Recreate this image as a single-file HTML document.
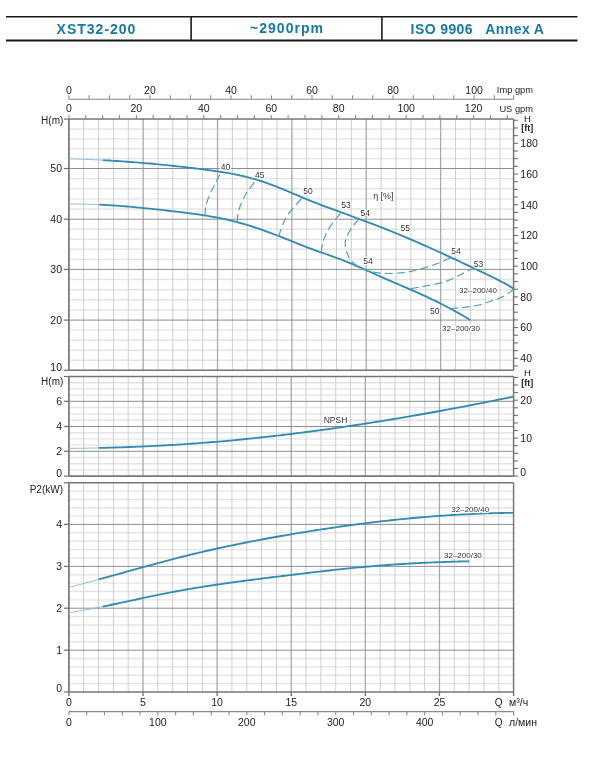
<!DOCTYPE html>
<html><head><meta charset="utf-8"><style>
html,body{margin:0;padding:0;background:#fff;}
body{width:602px;height:758px;overflow:hidden;position:relative;font-family:"Liberation Sans", sans-serif;}
svg{position:absolute;left:0;top:0;will-change:transform;}
svg text{font-family:"Liberation Sans", sans-serif;}
</style></head><body>
<svg width="602" height="758" viewBox="0 0 602 758">
<rect width="602" height="758" fill="#fff"/>
<line x1="6" y1="16.7" x2="577.5" y2="16.7" stroke="#1a1a1a" stroke-width="1.6"/>
<line x1="6" y1="40.4" x2="577.5" y2="40.4" stroke="#1a1a1a" stroke-width="2"/>
<line x1="191.1" y1="16" x2="191.1" y2="40.5" stroke="#1a1a1a" stroke-width="1.6"/>
<line x1="381.9" y1="16" x2="381.9" y2="40.5" stroke="#1a1a1a" stroke-width="1.6"/>
<text x="96.5" y="33.9" font-size="14" font-weight="bold" text-anchor="middle" fill="#1479a8" letter-spacing="1">XST32-200</text>
<text x="287" y="33.4" font-size="14" font-weight="bold" text-anchor="middle" fill="#1479a8" letter-spacing="1">~2900rpm</text>
<text x="477.5" y="33.9" font-size="14" font-weight="bold" text-anchor="middle" fill="#1479a8" letter-spacing="0.4" xml:space="preserve">ISO 9906   Annex A</text>
<line x1="68.90" y1="360.26" x2="513.59" y2="360.26" stroke="#e4e4e4" stroke-width="1.4" />
<line x1="68.90" y1="350.22" x2="513.59" y2="350.22" stroke="#e4e4e4" stroke-width="1.4" />
<line x1="68.90" y1="340.18" x2="513.59" y2="340.18" stroke="#e4e4e4" stroke-width="1.4" />
<line x1="68.90" y1="330.14" x2="513.59" y2="330.14" stroke="#e4e4e4" stroke-width="1.4" />
<line x1="68.90" y1="309.96" x2="513.59" y2="309.96" stroke="#e4e4e4" stroke-width="1.4" />
<line x1="68.90" y1="299.82" x2="513.59" y2="299.82" stroke="#e4e4e4" stroke-width="1.4" />
<line x1="68.90" y1="289.68" x2="513.59" y2="289.68" stroke="#e4e4e4" stroke-width="1.4" />
<line x1="68.90" y1="279.54" x2="513.59" y2="279.54" stroke="#e4e4e4" stroke-width="1.4" />
<line x1="68.90" y1="259.36" x2="513.59" y2="259.36" stroke="#e4e4e4" stroke-width="1.4" />
<line x1="68.90" y1="249.32" x2="513.59" y2="249.32" stroke="#e4e4e4" stroke-width="1.4" />
<line x1="68.90" y1="239.28" x2="513.59" y2="239.28" stroke="#e4e4e4" stroke-width="1.4" />
<line x1="68.90" y1="229.24" x2="513.59" y2="229.24" stroke="#e4e4e4" stroke-width="1.4" />
<line x1="68.90" y1="209.06" x2="513.59" y2="209.06" stroke="#e4e4e4" stroke-width="1.4" />
<line x1="68.90" y1="198.92" x2="513.59" y2="198.92" stroke="#e4e4e4" stroke-width="1.4" />
<line x1="68.90" y1="188.78" x2="513.59" y2="188.78" stroke="#e4e4e4" stroke-width="1.4" />
<line x1="68.90" y1="178.64" x2="513.59" y2="178.64" stroke="#e4e4e4" stroke-width="1.4" />
<line x1="68.90" y1="158.62" x2="513.59" y2="158.62" stroke="#e4e4e4" stroke-width="1.4" />
<line x1="68.90" y1="148.74" x2="513.59" y2="148.74" stroke="#e4e4e4" stroke-width="1.4" />
<line x1="68.90" y1="138.86" x2="513.59" y2="138.86" stroke="#e4e4e4" stroke-width="1.4" />
<line x1="68.90" y1="128.98" x2="513.59" y2="128.98" stroke="#e4e4e4" stroke-width="1.4" />
<line x1="83.67" y1="119.10" x2="83.67" y2="370.30" stroke="#cfcfcf" stroke-width="1.0" />
<line x1="98.54" y1="119.10" x2="98.54" y2="370.30" stroke="#cfcfcf" stroke-width="1.0" />
<line x1="113.42" y1="119.10" x2="113.42" y2="370.30" stroke="#cfcfcf" stroke-width="1.0" />
<line x1="128.29" y1="119.10" x2="128.29" y2="370.30" stroke="#cfcfcf" stroke-width="1.0" />
<line x1="143.16" y1="119.10" x2="143.16" y2="370.30" stroke="#a9a9a9" stroke-width="1.3" />
<line x1="158.03" y1="119.10" x2="158.03" y2="370.30" stroke="#cfcfcf" stroke-width="1.0" />
<line x1="172.90" y1="119.10" x2="172.90" y2="370.30" stroke="#cfcfcf" stroke-width="1.0" />
<line x1="187.78" y1="119.10" x2="187.78" y2="370.30" stroke="#cfcfcf" stroke-width="1.0" />
<line x1="202.65" y1="119.10" x2="202.65" y2="370.30" stroke="#cfcfcf" stroke-width="1.0" />
<line x1="217.52" y1="119.10" x2="217.52" y2="370.30" stroke="#a9a9a9" stroke-width="1.3" />
<line x1="232.39" y1="119.10" x2="232.39" y2="370.30" stroke="#cfcfcf" stroke-width="1.0" />
<line x1="247.26" y1="119.10" x2="247.26" y2="370.30" stroke="#cfcfcf" stroke-width="1.0" />
<line x1="262.14" y1="119.10" x2="262.14" y2="370.30" stroke="#cfcfcf" stroke-width="1.0" />
<line x1="277.01" y1="119.10" x2="277.01" y2="370.30" stroke="#cfcfcf" stroke-width="1.0" />
<line x1="291.88" y1="119.10" x2="291.88" y2="370.30" stroke="#a9a9a9" stroke-width="1.3" />
<line x1="306.75" y1="119.10" x2="306.75" y2="370.30" stroke="#cfcfcf" stroke-width="1.0" />
<line x1="321.62" y1="119.10" x2="321.62" y2="370.30" stroke="#cfcfcf" stroke-width="1.0" />
<line x1="336.50" y1="119.10" x2="336.50" y2="370.30" stroke="#cfcfcf" stroke-width="1.0" />
<line x1="351.37" y1="119.10" x2="351.37" y2="370.30" stroke="#cfcfcf" stroke-width="1.0" />
<line x1="366.24" y1="119.10" x2="366.24" y2="370.30" stroke="#a9a9a9" stroke-width="1.3" />
<line x1="381.11" y1="119.10" x2="381.11" y2="370.30" stroke="#cfcfcf" stroke-width="1.0" />
<line x1="395.98" y1="119.10" x2="395.98" y2="370.30" stroke="#cfcfcf" stroke-width="1.0" />
<line x1="410.86" y1="119.10" x2="410.86" y2="370.30" stroke="#cfcfcf" stroke-width="1.0" />
<line x1="425.73" y1="119.10" x2="425.73" y2="370.30" stroke="#cfcfcf" stroke-width="1.0" />
<line x1="440.60" y1="119.10" x2="440.60" y2="370.30" stroke="#a9a9a9" stroke-width="1.3" />
<line x1="455.47" y1="119.10" x2="455.47" y2="370.30" stroke="#cfcfcf" stroke-width="1.0" />
<line x1="470.34" y1="119.10" x2="470.34" y2="370.30" stroke="#cfcfcf" stroke-width="1.0" />
<line x1="485.22" y1="119.10" x2="485.22" y2="370.30" stroke="#cfcfcf" stroke-width="1.0" />
<line x1="500.09" y1="119.10" x2="500.09" y2="370.30" stroke="#cfcfcf" stroke-width="1.0" />
<line x1="68.90" y1="320.10" x2="513.59" y2="320.10" stroke="#8e8e8e" stroke-width="1.0" />
<line x1="68.90" y1="269.40" x2="513.59" y2="269.40" stroke="#8e8e8e" stroke-width="1.0" />
<line x1="68.90" y1="219.20" x2="513.59" y2="219.20" stroke="#8e8e8e" stroke-width="1.0" />
<line x1="68.90" y1="168.50" x2="513.59" y2="168.50" stroke="#8e8e8e" stroke-width="1.0" />
<line x1="68.90" y1="119.10" x2="513.59" y2="119.10" stroke="#767676" stroke-width="1.5" />
<line x1="68.90" y1="370.30" x2="513.59" y2="370.30" stroke="#767676" stroke-width="1.6" />
<line x1="68.90" y1="119.10" x2="68.90" y2="370.30" stroke="#767676" stroke-width="1.7" />
<line x1="513.59" y1="119.10" x2="513.59" y2="370.30" stroke="#767676" stroke-width="1.5" />
<line x1="68.90" y1="469.90" x2="513.59" y2="469.90" stroke="#e4e4e4" stroke-width="1.4" />
<line x1="68.90" y1="463.70" x2="513.59" y2="463.70" stroke="#e4e4e4" stroke-width="1.4" />
<line x1="68.90" y1="457.50" x2="513.59" y2="457.50" stroke="#e4e4e4" stroke-width="1.4" />
<line x1="68.90" y1="445.10" x2="513.59" y2="445.10" stroke="#e4e4e4" stroke-width="1.4" />
<line x1="68.90" y1="438.90" x2="513.59" y2="438.90" stroke="#e4e4e4" stroke-width="1.4" />
<line x1="68.90" y1="432.70" x2="513.59" y2="432.70" stroke="#e4e4e4" stroke-width="1.4" />
<line x1="68.90" y1="420.20" x2="513.59" y2="420.20" stroke="#e4e4e4" stroke-width="1.4" />
<line x1="68.90" y1="413.90" x2="513.59" y2="413.90" stroke="#e4e4e4" stroke-width="1.4" />
<line x1="68.90" y1="407.60" x2="513.59" y2="407.60" stroke="#e4e4e4" stroke-width="1.4" />
<line x1="68.90" y1="395.10" x2="513.59" y2="395.10" stroke="#e4e4e4" stroke-width="1.4" />
<line x1="68.90" y1="388.90" x2="513.59" y2="388.90" stroke="#e4e4e4" stroke-width="1.4" />
<line x1="68.90" y1="382.70" x2="513.59" y2="382.70" stroke="#e4e4e4" stroke-width="1.4" />
<line x1="83.72" y1="376.50" x2="83.72" y2="476.10" stroke="#cfcfcf" stroke-width="1.0" />
<line x1="98.55" y1="376.50" x2="98.55" y2="476.10" stroke="#cfcfcf" stroke-width="1.0" />
<line x1="113.37" y1="376.50" x2="113.37" y2="476.10" stroke="#cfcfcf" stroke-width="1.0" />
<line x1="128.19" y1="376.50" x2="128.19" y2="476.10" stroke="#cfcfcf" stroke-width="1.0" />
<line x1="143.02" y1="376.50" x2="143.02" y2="476.10" stroke="#a9a9a9" stroke-width="1.3" />
<line x1="157.84" y1="376.50" x2="157.84" y2="476.10" stroke="#cfcfcf" stroke-width="1.0" />
<line x1="172.66" y1="376.50" x2="172.66" y2="476.10" stroke="#cfcfcf" stroke-width="1.0" />
<line x1="187.48" y1="376.50" x2="187.48" y2="476.10" stroke="#cfcfcf" stroke-width="1.0" />
<line x1="202.31" y1="376.50" x2="202.31" y2="476.10" stroke="#cfcfcf" stroke-width="1.0" />
<line x1="217.13" y1="376.50" x2="217.13" y2="476.10" stroke="#a9a9a9" stroke-width="1.3" />
<line x1="231.95" y1="376.50" x2="231.95" y2="476.10" stroke="#cfcfcf" stroke-width="1.0" />
<line x1="246.78" y1="376.50" x2="246.78" y2="476.10" stroke="#cfcfcf" stroke-width="1.0" />
<line x1="261.60" y1="376.50" x2="261.60" y2="476.10" stroke="#cfcfcf" stroke-width="1.0" />
<line x1="276.42" y1="376.50" x2="276.42" y2="476.10" stroke="#cfcfcf" stroke-width="1.0" />
<line x1="291.25" y1="376.50" x2="291.25" y2="476.10" stroke="#a9a9a9" stroke-width="1.3" />
<line x1="306.07" y1="376.50" x2="306.07" y2="476.10" stroke="#cfcfcf" stroke-width="1.0" />
<line x1="320.89" y1="376.50" x2="320.89" y2="476.10" stroke="#cfcfcf" stroke-width="1.0" />
<line x1="335.71" y1="376.50" x2="335.71" y2="476.10" stroke="#cfcfcf" stroke-width="1.0" />
<line x1="350.54" y1="376.50" x2="350.54" y2="476.10" stroke="#cfcfcf" stroke-width="1.0" />
<line x1="365.36" y1="376.50" x2="365.36" y2="476.10" stroke="#a9a9a9" stroke-width="1.3" />
<line x1="380.18" y1="376.50" x2="380.18" y2="476.10" stroke="#cfcfcf" stroke-width="1.0" />
<line x1="395.01" y1="376.50" x2="395.01" y2="476.10" stroke="#cfcfcf" stroke-width="1.0" />
<line x1="409.83" y1="376.50" x2="409.83" y2="476.10" stroke="#cfcfcf" stroke-width="1.0" />
<line x1="424.65" y1="376.50" x2="424.65" y2="476.10" stroke="#cfcfcf" stroke-width="1.0" />
<line x1="439.48" y1="376.50" x2="439.48" y2="476.10" stroke="#a9a9a9" stroke-width="1.3" />
<line x1="454.30" y1="376.50" x2="454.30" y2="476.10" stroke="#cfcfcf" stroke-width="1.0" />
<line x1="469.12" y1="376.50" x2="469.12" y2="476.10" stroke="#cfcfcf" stroke-width="1.0" />
<line x1="483.94" y1="376.50" x2="483.94" y2="476.10" stroke="#cfcfcf" stroke-width="1.0" />
<line x1="498.77" y1="376.50" x2="498.77" y2="476.10" stroke="#cfcfcf" stroke-width="1.0" />
<line x1="68.90" y1="451.30" x2="513.59" y2="451.30" stroke="#8e8e8e" stroke-width="1.0" />
<line x1="68.90" y1="426.50" x2="513.59" y2="426.50" stroke="#8e8e8e" stroke-width="1.0" />
<line x1="68.90" y1="401.30" x2="513.59" y2="401.30" stroke="#8e8e8e" stroke-width="1.0" />
<line x1="68.90" y1="376.50" x2="513.59" y2="376.50" stroke="#767676" stroke-width="1.5" />
<line x1="68.90" y1="476.10" x2="513.59" y2="476.10" stroke="#767676" stroke-width="1.6" />
<line x1="68.90" y1="376.50" x2="68.90" y2="476.10" stroke="#767676" stroke-width="1.7" />
<line x1="513.59" y1="376.50" x2="513.59" y2="476.10" stroke="#767676" stroke-width="1.5" />
<line x1="68.90" y1="683.64" x2="513.59" y2="683.64" stroke="#e4e4e4" stroke-width="1.4" />
<line x1="68.90" y1="675.28" x2="513.59" y2="675.28" stroke="#e4e4e4" stroke-width="1.4" />
<line x1="68.90" y1="666.92" x2="513.59" y2="666.92" stroke="#e4e4e4" stroke-width="1.4" />
<line x1="68.90" y1="658.56" x2="513.59" y2="658.56" stroke="#e4e4e4" stroke-width="1.4" />
<line x1="68.90" y1="641.80" x2="513.59" y2="641.80" stroke="#e4e4e4" stroke-width="1.4" />
<line x1="68.90" y1="633.40" x2="513.59" y2="633.40" stroke="#e4e4e4" stroke-width="1.4" />
<line x1="68.90" y1="625.00" x2="513.59" y2="625.00" stroke="#e4e4e4" stroke-width="1.4" />
<line x1="68.90" y1="616.60" x2="513.59" y2="616.60" stroke="#e4e4e4" stroke-width="1.4" />
<line x1="68.90" y1="599.84" x2="513.59" y2="599.84" stroke="#e4e4e4" stroke-width="1.4" />
<line x1="68.90" y1="591.48" x2="513.59" y2="591.48" stroke="#e4e4e4" stroke-width="1.4" />
<line x1="68.90" y1="583.12" x2="513.59" y2="583.12" stroke="#e4e4e4" stroke-width="1.4" />
<line x1="68.90" y1="574.76" x2="513.59" y2="574.76" stroke="#e4e4e4" stroke-width="1.4" />
<line x1="68.90" y1="558.00" x2="513.59" y2="558.00" stroke="#e4e4e4" stroke-width="1.4" />
<line x1="68.90" y1="549.60" x2="513.59" y2="549.60" stroke="#e4e4e4" stroke-width="1.4" />
<line x1="68.90" y1="541.20" x2="513.59" y2="541.20" stroke="#e4e4e4" stroke-width="1.4" />
<line x1="68.90" y1="532.80" x2="513.59" y2="532.80" stroke="#e4e4e4" stroke-width="1.4" />
<line x1="68.90" y1="516.08" x2="513.59" y2="516.08" stroke="#e4e4e4" stroke-width="1.4" />
<line x1="68.90" y1="507.76" x2="513.59" y2="507.76" stroke="#e4e4e4" stroke-width="1.4" />
<line x1="68.90" y1="499.44" x2="513.59" y2="499.44" stroke="#e4e4e4" stroke-width="1.4" />
<line x1="68.90" y1="491.12" x2="513.59" y2="491.12" stroke="#e4e4e4" stroke-width="1.4" />
<line x1="83.72" y1="482.80" x2="83.72" y2="692.00" stroke="#cfcfcf" stroke-width="1.0" />
<line x1="98.55" y1="482.80" x2="98.55" y2="692.00" stroke="#cfcfcf" stroke-width="1.0" />
<line x1="113.37" y1="482.80" x2="113.37" y2="692.00" stroke="#cfcfcf" stroke-width="1.0" />
<line x1="128.19" y1="482.80" x2="128.19" y2="692.00" stroke="#cfcfcf" stroke-width="1.0" />
<line x1="143.02" y1="482.80" x2="143.02" y2="692.00" stroke="#a9a9a9" stroke-width="1.3" />
<line x1="157.84" y1="482.80" x2="157.84" y2="692.00" stroke="#cfcfcf" stroke-width="1.0" />
<line x1="172.66" y1="482.80" x2="172.66" y2="692.00" stroke="#cfcfcf" stroke-width="1.0" />
<line x1="187.48" y1="482.80" x2="187.48" y2="692.00" stroke="#cfcfcf" stroke-width="1.0" />
<line x1="202.31" y1="482.80" x2="202.31" y2="692.00" stroke="#cfcfcf" stroke-width="1.0" />
<line x1="217.13" y1="482.80" x2="217.13" y2="692.00" stroke="#a9a9a9" stroke-width="1.3" />
<line x1="231.95" y1="482.80" x2="231.95" y2="692.00" stroke="#cfcfcf" stroke-width="1.0" />
<line x1="246.78" y1="482.80" x2="246.78" y2="692.00" stroke="#cfcfcf" stroke-width="1.0" />
<line x1="261.60" y1="482.80" x2="261.60" y2="692.00" stroke="#cfcfcf" stroke-width="1.0" />
<line x1="276.42" y1="482.80" x2="276.42" y2="692.00" stroke="#cfcfcf" stroke-width="1.0" />
<line x1="291.25" y1="482.80" x2="291.25" y2="692.00" stroke="#a9a9a9" stroke-width="1.3" />
<line x1="306.07" y1="482.80" x2="306.07" y2="692.00" stroke="#cfcfcf" stroke-width="1.0" />
<line x1="320.89" y1="482.80" x2="320.89" y2="692.00" stroke="#cfcfcf" stroke-width="1.0" />
<line x1="335.71" y1="482.80" x2="335.71" y2="692.00" stroke="#cfcfcf" stroke-width="1.0" />
<line x1="350.54" y1="482.80" x2="350.54" y2="692.00" stroke="#cfcfcf" stroke-width="1.0" />
<line x1="365.36" y1="482.80" x2="365.36" y2="692.00" stroke="#a9a9a9" stroke-width="1.3" />
<line x1="380.18" y1="482.80" x2="380.18" y2="692.00" stroke="#cfcfcf" stroke-width="1.0" />
<line x1="395.01" y1="482.80" x2="395.01" y2="692.00" stroke="#cfcfcf" stroke-width="1.0" />
<line x1="409.83" y1="482.80" x2="409.83" y2="692.00" stroke="#cfcfcf" stroke-width="1.0" />
<line x1="424.65" y1="482.80" x2="424.65" y2="692.00" stroke="#cfcfcf" stroke-width="1.0" />
<line x1="439.48" y1="482.80" x2="439.48" y2="692.00" stroke="#a9a9a9" stroke-width="1.3" />
<line x1="454.30" y1="482.80" x2="454.30" y2="692.00" stroke="#cfcfcf" stroke-width="1.0" />
<line x1="469.12" y1="482.80" x2="469.12" y2="692.00" stroke="#cfcfcf" stroke-width="1.0" />
<line x1="483.94" y1="482.80" x2="483.94" y2="692.00" stroke="#cfcfcf" stroke-width="1.0" />
<line x1="498.77" y1="482.80" x2="498.77" y2="692.00" stroke="#cfcfcf" stroke-width="1.0" />
<line x1="68.90" y1="650.20" x2="513.59" y2="650.20" stroke="#8e8e8e" stroke-width="1.0" />
<line x1="68.90" y1="608.20" x2="513.59" y2="608.20" stroke="#8e8e8e" stroke-width="1.0" />
<line x1="68.90" y1="566.40" x2="513.59" y2="566.40" stroke="#8e8e8e" stroke-width="1.0" />
<line x1="68.90" y1="524.40" x2="513.59" y2="524.40" stroke="#8e8e8e" stroke-width="1.0" />
<line x1="68.90" y1="482.80" x2="513.59" y2="482.80" stroke="#767676" stroke-width="1.5" />
<line x1="68.90" y1="692.00" x2="513.59" y2="692.00" stroke="#767676" stroke-width="1.6" />
<line x1="68.90" y1="482.80" x2="68.90" y2="692.00" stroke="#767676" stroke-width="1.7" />
<line x1="513.59" y1="482.80" x2="513.59" y2="692.00" stroke="#767676" stroke-width="1.5" />
<line x1="63.90" y1="370.30" x2="68.90" y2="370.30" stroke="#6e6e6e" stroke-width="1.2" />
<text x="62.00" y="370.70" font-size="10.5" text-anchor="end" fill="#222" >10</text>
<line x1="63.90" y1="320.10" x2="68.90" y2="320.10" stroke="#6e6e6e" stroke-width="1.2" />
<text x="62.00" y="323.90" font-size="10.5" text-anchor="end" fill="#222" >20</text>
<line x1="63.90" y1="269.40" x2="68.90" y2="269.40" stroke="#6e6e6e" stroke-width="1.2" />
<text x="62.00" y="273.20" font-size="10.5" text-anchor="end" fill="#222" >30</text>
<line x1="63.90" y1="219.20" x2="68.90" y2="219.20" stroke="#6e6e6e" stroke-width="1.2" />
<text x="62.00" y="223.00" font-size="10.5" text-anchor="end" fill="#222" >40</text>
<line x1="63.90" y1="168.50" x2="68.90" y2="168.50" stroke="#6e6e6e" stroke-width="1.2" />
<text x="62.00" y="172.30" font-size="10.5" text-anchor="end" fill="#222" >50</text>
<line x1="63.90" y1="119.10" x2="68.90" y2="119.10" stroke="#6e6e6e" stroke-width="1.2" />
<text x="63.30" y="124.20" font-size="10" text-anchor="end" fill="#222" >H(m)</text>
<line x1="63.90" y1="476.10" x2="68.90" y2="476.10" stroke="#6e6e6e" stroke-width="1.2" />
<text x="62.00" y="476.50" font-size="10.5" text-anchor="end" fill="#222" >0</text>
<line x1="63.90" y1="451.30" x2="68.90" y2="451.30" stroke="#6e6e6e" stroke-width="1.2" />
<text x="62.00" y="455.10" font-size="10.5" text-anchor="end" fill="#222" >2</text>
<line x1="63.90" y1="426.50" x2="68.90" y2="426.50" stroke="#6e6e6e" stroke-width="1.2" />
<text x="62.00" y="430.30" font-size="10.5" text-anchor="end" fill="#222" >4</text>
<line x1="63.90" y1="401.30" x2="68.90" y2="401.30" stroke="#6e6e6e" stroke-width="1.2" />
<text x="62.00" y="405.10" font-size="10.5" text-anchor="end" fill="#222" >6</text>
<line x1="63.90" y1="376.50" x2="68.90" y2="376.50" stroke="#6e6e6e" stroke-width="1.2" />
<text x="63.30" y="384.50" font-size="10" text-anchor="end" fill="#222" >H(m)</text>
<line x1="63.90" y1="692.00" x2="68.90" y2="692.00" stroke="#6e6e6e" stroke-width="1.2" />
<text x="62.00" y="692.40" font-size="10.5" text-anchor="end" fill="#222" >0</text>
<line x1="63.90" y1="650.20" x2="68.90" y2="650.20" stroke="#6e6e6e" stroke-width="1.2" />
<text x="62.00" y="654.00" font-size="10.5" text-anchor="end" fill="#222" >1</text>
<line x1="63.90" y1="608.20" x2="68.90" y2="608.20" stroke="#6e6e6e" stroke-width="1.2" />
<text x="62.00" y="612.00" font-size="10.5" text-anchor="end" fill="#222" >2</text>
<line x1="63.90" y1="566.40" x2="68.90" y2="566.40" stroke="#6e6e6e" stroke-width="1.2" />
<text x="62.00" y="570.20" font-size="10.5" text-anchor="end" fill="#222" >3</text>
<line x1="63.90" y1="524.40" x2="68.90" y2="524.40" stroke="#6e6e6e" stroke-width="1.2" />
<text x="62.00" y="528.20" font-size="10.5" text-anchor="end" fill="#222" >4</text>
<line x1="63.90" y1="482.80" x2="68.90" y2="482.80" stroke="#6e6e6e" stroke-width="1.2" />
<text x="63.00" y="493.20" font-size="10" text-anchor="end" fill="#222" >P2(kW)</text>
<line x1="513.59" y1="365.98" x2="517.89" y2="365.98" stroke="#6e6e6e" stroke-width="1.1" />
<line x1="513.59" y1="358.30" x2="517.89" y2="358.30" stroke="#6e6e6e" stroke-width="1.1" />
<line x1="513.59" y1="350.62" x2="517.89" y2="350.62" stroke="#6e6e6e" stroke-width="1.1" />
<line x1="513.59" y1="342.94" x2="517.89" y2="342.94" stroke="#6e6e6e" stroke-width="1.1" />
<line x1="513.59" y1="335.26" x2="517.89" y2="335.26" stroke="#6e6e6e" stroke-width="1.1" />
<line x1="513.59" y1="327.59" x2="517.89" y2="327.59" stroke="#6e6e6e" stroke-width="1.1" />
<line x1="513.59" y1="319.91" x2="517.89" y2="319.91" stroke="#6e6e6e" stroke-width="1.1" />
<line x1="513.59" y1="312.23" x2="517.89" y2="312.23" stroke="#6e6e6e" stroke-width="1.1" />
<line x1="513.59" y1="304.55" x2="517.89" y2="304.55" stroke="#6e6e6e" stroke-width="1.1" />
<line x1="513.59" y1="296.87" x2="517.89" y2="296.87" stroke="#6e6e6e" stroke-width="1.1" />
<line x1="513.59" y1="289.19" x2="517.89" y2="289.19" stroke="#6e6e6e" stroke-width="1.1" />
<line x1="513.59" y1="281.51" x2="517.89" y2="281.51" stroke="#6e6e6e" stroke-width="1.1" />
<line x1="513.59" y1="273.84" x2="517.89" y2="273.84" stroke="#6e6e6e" stroke-width="1.1" />
<line x1="513.59" y1="266.16" x2="517.89" y2="266.16" stroke="#6e6e6e" stroke-width="1.1" />
<line x1="513.59" y1="258.48" x2="517.89" y2="258.48" stroke="#6e6e6e" stroke-width="1.1" />
<line x1="513.59" y1="250.80" x2="517.89" y2="250.80" stroke="#6e6e6e" stroke-width="1.1" />
<line x1="513.59" y1="243.12" x2="517.89" y2="243.12" stroke="#6e6e6e" stroke-width="1.1" />
<line x1="513.59" y1="235.44" x2="517.89" y2="235.44" stroke="#6e6e6e" stroke-width="1.1" />
<line x1="513.59" y1="227.77" x2="517.89" y2="227.77" stroke="#6e6e6e" stroke-width="1.1" />
<line x1="513.59" y1="220.09" x2="517.89" y2="220.09" stroke="#6e6e6e" stroke-width="1.1" />
<line x1="513.59" y1="212.41" x2="517.89" y2="212.41" stroke="#6e6e6e" stroke-width="1.1" />
<line x1="513.59" y1="204.73" x2="517.89" y2="204.73" stroke="#6e6e6e" stroke-width="1.1" />
<line x1="513.59" y1="197.05" x2="517.89" y2="197.05" stroke="#6e6e6e" stroke-width="1.1" />
<line x1="513.59" y1="189.37" x2="517.89" y2="189.37" stroke="#6e6e6e" stroke-width="1.1" />
<line x1="513.59" y1="181.69" x2="517.89" y2="181.69" stroke="#6e6e6e" stroke-width="1.1" />
<line x1="513.59" y1="174.02" x2="517.89" y2="174.02" stroke="#6e6e6e" stroke-width="1.1" />
<line x1="513.59" y1="166.34" x2="517.89" y2="166.34" stroke="#6e6e6e" stroke-width="1.1" />
<line x1="513.59" y1="158.66" x2="517.89" y2="158.66" stroke="#6e6e6e" stroke-width="1.1" />
<line x1="513.59" y1="150.98" x2="517.89" y2="150.98" stroke="#6e6e6e" stroke-width="1.1" />
<line x1="513.59" y1="143.30" x2="517.89" y2="143.30" stroke="#6e6e6e" stroke-width="1.1" />
<line x1="513.59" y1="135.62" x2="517.89" y2="135.62" stroke="#6e6e6e" stroke-width="1.1" />
<line x1="513.59" y1="127.94" x2="517.89" y2="127.94" stroke="#6e6e6e" stroke-width="1.1" />
<line x1="513.59" y1="120.27" x2="517.89" y2="120.27" stroke="#6e6e6e" stroke-width="1.1" />
<text x="520.30" y="362.10" font-size="10.5" text-anchor="start" fill="#222" >40</text>
<text x="520.30" y="331.39" font-size="10.5" text-anchor="start" fill="#222" >60</text>
<text x="520.30" y="300.67" font-size="10.5" text-anchor="start" fill="#222" >80</text>
<text x="520.30" y="269.96" font-size="10.5" text-anchor="start" fill="#222" >100</text>
<text x="520.30" y="239.24" font-size="10.5" text-anchor="start" fill="#222" >120</text>
<text x="520.30" y="208.53" font-size="10.5" text-anchor="start" fill="#222" >140</text>
<text x="520.30" y="177.82" font-size="10.5" text-anchor="start" fill="#222" >160</text>
<text x="520.30" y="147.10" font-size="10.5" text-anchor="start" fill="#222" >180</text>
<text x="527.50" y="122.30" font-size="9.5" text-anchor="middle" fill="#222" >H</text>
<text x="527.30" y="131.40" font-size="9" text-anchor="middle" fill="#222" font-weight="bold">[ft]</text>
<line x1="513.59" y1="476.10" x2="517.89" y2="476.10" stroke="#6e6e6e" stroke-width="1.1" />
<line x1="513.59" y1="468.51" x2="517.89" y2="468.51" stroke="#6e6e6e" stroke-width="1.1" />
<line x1="513.59" y1="460.92" x2="517.89" y2="460.92" stroke="#6e6e6e" stroke-width="1.1" />
<line x1="513.59" y1="453.33" x2="517.89" y2="453.33" stroke="#6e6e6e" stroke-width="1.1" />
<line x1="513.59" y1="445.74" x2="517.89" y2="445.74" stroke="#6e6e6e" stroke-width="1.1" />
<line x1="513.59" y1="438.15" x2="517.89" y2="438.15" stroke="#6e6e6e" stroke-width="1.1" />
<line x1="513.59" y1="430.56" x2="517.89" y2="430.56" stroke="#6e6e6e" stroke-width="1.1" />
<line x1="513.59" y1="422.97" x2="517.89" y2="422.97" stroke="#6e6e6e" stroke-width="1.1" />
<line x1="513.59" y1="415.38" x2="517.89" y2="415.38" stroke="#6e6e6e" stroke-width="1.1" />
<line x1="513.59" y1="407.79" x2="517.89" y2="407.79" stroke="#6e6e6e" stroke-width="1.1" />
<line x1="513.59" y1="400.20" x2="517.89" y2="400.20" stroke="#6e6e6e" stroke-width="1.1" />
<line x1="513.59" y1="392.62" x2="517.89" y2="392.62" stroke="#6e6e6e" stroke-width="1.1" />
<line x1="513.59" y1="385.03" x2="517.89" y2="385.03" stroke="#6e6e6e" stroke-width="1.1" />
<line x1="513.59" y1="377.44" x2="517.89" y2="377.44" stroke="#6e6e6e" stroke-width="1.1" />
<text x="520.30" y="476.40" font-size="10.5" text-anchor="start" fill="#222" >0</text>
<text x="520.30" y="441.95" font-size="10.5" text-anchor="start" fill="#222" >10</text>
<text x="520.30" y="404.00" font-size="10.5" text-anchor="start" fill="#222" >20</text>
<text x="527.50" y="375.80" font-size="9.5" text-anchor="middle" fill="#222" >H</text>
<text x="527.30" y="386.40" font-size="9" text-anchor="middle" fill="#222" font-weight="bold">[ft]</text>
<line x1="68.90" y1="99.30" x2="513.59" y2="99.30" stroke="#8a8a8a" stroke-width="1.1" />
<line x1="68.90" y1="95.30" x2="68.90" y2="99.30" stroke="#8a8a8a" stroke-width="1.1" />
<text x="68.90" y="93.60" font-size="10.5" text-anchor="middle" fill="#222" >0</text>
<line x1="89.16" y1="95.30" x2="89.16" y2="99.30" stroke="#8a8a8a" stroke-width="1.1" />
<line x1="109.42" y1="95.30" x2="109.42" y2="99.30" stroke="#8a8a8a" stroke-width="1.1" />
<line x1="129.68" y1="95.30" x2="129.68" y2="99.30" stroke="#8a8a8a" stroke-width="1.1" />
<line x1="149.94" y1="95.30" x2="149.94" y2="99.30" stroke="#8a8a8a" stroke-width="1.1" />
<text x="149.94" y="93.60" font-size="10.5" text-anchor="middle" fill="#222" >20</text>
<line x1="170.20" y1="95.30" x2="170.20" y2="99.30" stroke="#8a8a8a" stroke-width="1.1" />
<line x1="190.46" y1="95.30" x2="190.46" y2="99.30" stroke="#8a8a8a" stroke-width="1.1" />
<line x1="210.72" y1="95.30" x2="210.72" y2="99.30" stroke="#8a8a8a" stroke-width="1.1" />
<line x1="230.98" y1="95.30" x2="230.98" y2="99.30" stroke="#8a8a8a" stroke-width="1.1" />
<text x="230.98" y="93.60" font-size="10.5" text-anchor="middle" fill="#222" >40</text>
<line x1="251.24" y1="95.30" x2="251.24" y2="99.30" stroke="#8a8a8a" stroke-width="1.1" />
<line x1="271.50" y1="95.30" x2="271.50" y2="99.30" stroke="#8a8a8a" stroke-width="1.1" />
<line x1="291.76" y1="95.30" x2="291.76" y2="99.30" stroke="#8a8a8a" stroke-width="1.1" />
<line x1="312.02" y1="95.30" x2="312.02" y2="99.30" stroke="#8a8a8a" stroke-width="1.1" />
<text x="312.02" y="93.60" font-size="10.5" text-anchor="middle" fill="#222" >60</text>
<line x1="332.28" y1="95.30" x2="332.28" y2="99.30" stroke="#8a8a8a" stroke-width="1.1" />
<line x1="352.54" y1="95.30" x2="352.54" y2="99.30" stroke="#8a8a8a" stroke-width="1.1" />
<line x1="372.80" y1="95.30" x2="372.80" y2="99.30" stroke="#8a8a8a" stroke-width="1.1" />
<line x1="393.06" y1="95.30" x2="393.06" y2="99.30" stroke="#8a8a8a" stroke-width="1.1" />
<text x="393.06" y="93.60" font-size="10.5" text-anchor="middle" fill="#222" >80</text>
<line x1="413.32" y1="95.30" x2="413.32" y2="99.30" stroke="#8a8a8a" stroke-width="1.1" />
<line x1="433.58" y1="95.30" x2="433.58" y2="99.30" stroke="#8a8a8a" stroke-width="1.1" />
<line x1="453.84" y1="95.30" x2="453.84" y2="99.30" stroke="#8a8a8a" stroke-width="1.1" />
<line x1="474.10" y1="95.30" x2="474.10" y2="99.30" stroke="#8a8a8a" stroke-width="1.1" />
<text x="474.10" y="93.60" font-size="10.5" text-anchor="middle" fill="#222" >100</text>
<line x1="494.36" y1="95.30" x2="494.36" y2="99.30" stroke="#8a8a8a" stroke-width="1.1" />
<line x1="513.59" y1="95.30" x2="513.59" y2="99.30" stroke="#8a8a8a" stroke-width="1.1" />
<text x="533.00" y="93.20" font-size="9.3" text-anchor="end" fill="#222" >Imp gpm</text>
<line x1="68.90" y1="115.10" x2="68.90" y2="119.10" stroke="#8a8a8a" stroke-width="1.1" />
<text x="68.90" y="111.80" font-size="10.5" text-anchor="middle" fill="#222" >0</text>
<line x1="85.76" y1="115.10" x2="85.76" y2="119.10" stroke="#8a8a8a" stroke-width="1.1" />
<line x1="102.62" y1="115.10" x2="102.62" y2="119.10" stroke="#8a8a8a" stroke-width="1.1" />
<line x1="119.49" y1="115.10" x2="119.49" y2="119.10" stroke="#8a8a8a" stroke-width="1.1" />
<line x1="136.35" y1="115.10" x2="136.35" y2="119.10" stroke="#8a8a8a" stroke-width="1.1" />
<text x="136.35" y="111.80" font-size="10.5" text-anchor="middle" fill="#222" >20</text>
<line x1="153.21" y1="115.10" x2="153.21" y2="119.10" stroke="#8a8a8a" stroke-width="1.1" />
<line x1="170.07" y1="115.10" x2="170.07" y2="119.10" stroke="#8a8a8a" stroke-width="1.1" />
<line x1="186.94" y1="115.10" x2="186.94" y2="119.10" stroke="#8a8a8a" stroke-width="1.1" />
<line x1="203.80" y1="115.10" x2="203.80" y2="119.10" stroke="#8a8a8a" stroke-width="1.1" />
<text x="203.80" y="111.80" font-size="10.5" text-anchor="middle" fill="#222" >40</text>
<line x1="220.66" y1="115.10" x2="220.66" y2="119.10" stroke="#8a8a8a" stroke-width="1.1" />
<line x1="237.53" y1="115.10" x2="237.53" y2="119.10" stroke="#8a8a8a" stroke-width="1.1" />
<line x1="254.39" y1="115.10" x2="254.39" y2="119.10" stroke="#8a8a8a" stroke-width="1.1" />
<line x1="271.25" y1="115.10" x2="271.25" y2="119.10" stroke="#8a8a8a" stroke-width="1.1" />
<text x="271.25" y="111.80" font-size="10.5" text-anchor="middle" fill="#222" >60</text>
<line x1="288.11" y1="115.10" x2="288.11" y2="119.10" stroke="#8a8a8a" stroke-width="1.1" />
<line x1="304.98" y1="115.10" x2="304.98" y2="119.10" stroke="#8a8a8a" stroke-width="1.1" />
<line x1="321.84" y1="115.10" x2="321.84" y2="119.10" stroke="#8a8a8a" stroke-width="1.1" />
<line x1="338.70" y1="115.10" x2="338.70" y2="119.10" stroke="#8a8a8a" stroke-width="1.1" />
<text x="338.70" y="111.80" font-size="10.5" text-anchor="middle" fill="#222" >80</text>
<line x1="355.56" y1="115.10" x2="355.56" y2="119.10" stroke="#8a8a8a" stroke-width="1.1" />
<line x1="372.42" y1="115.10" x2="372.42" y2="119.10" stroke="#8a8a8a" stroke-width="1.1" />
<line x1="389.29" y1="115.10" x2="389.29" y2="119.10" stroke="#8a8a8a" stroke-width="1.1" />
<line x1="406.15" y1="115.10" x2="406.15" y2="119.10" stroke="#8a8a8a" stroke-width="1.1" />
<text x="406.15" y="111.80" font-size="10.5" text-anchor="middle" fill="#222" >100</text>
<line x1="423.01" y1="115.10" x2="423.01" y2="119.10" stroke="#8a8a8a" stroke-width="1.1" />
<line x1="439.88" y1="115.10" x2="439.88" y2="119.10" stroke="#8a8a8a" stroke-width="1.1" />
<line x1="456.74" y1="115.10" x2="456.74" y2="119.10" stroke="#8a8a8a" stroke-width="1.1" />
<line x1="473.60" y1="115.10" x2="473.60" y2="119.10" stroke="#8a8a8a" stroke-width="1.1" />
<text x="473.60" y="111.80" font-size="10.5" text-anchor="middle" fill="#222" >120</text>
<line x1="490.46" y1="115.10" x2="490.46" y2="119.10" stroke="#8a8a8a" stroke-width="1.1" />
<line x1="507.33" y1="115.10" x2="507.33" y2="119.10" stroke="#8a8a8a" stroke-width="1.1" />
<text x="533.00" y="111.80" font-size="9.3" text-anchor="end" fill="#222" >US gpm</text>
<line x1="68.90" y1="692.00" x2="68.90" y2="696.00" stroke="#6e6e6e" stroke-width="1.3" />
<text x="68.90" y="706.00" font-size="10.5" text-anchor="middle" fill="#222" >0</text>
<line x1="143.02" y1="692.00" x2="143.02" y2="696.00" stroke="#6e6e6e" stroke-width="1.3" />
<text x="143.02" y="706.00" font-size="10.5" text-anchor="middle" fill="#222" >5</text>
<line x1="217.13" y1="692.00" x2="217.13" y2="696.00" stroke="#6e6e6e" stroke-width="1.3" />
<text x="217.13" y="706.00" font-size="10.5" text-anchor="middle" fill="#222" >10</text>
<line x1="291.25" y1="692.00" x2="291.25" y2="696.00" stroke="#6e6e6e" stroke-width="1.3" />
<text x="291.25" y="706.00" font-size="10.5" text-anchor="middle" fill="#222" >15</text>
<line x1="365.36" y1="692.00" x2="365.36" y2="696.00" stroke="#6e6e6e" stroke-width="1.3" />
<text x="365.36" y="706.00" font-size="10.5" text-anchor="middle" fill="#222" >20</text>
<line x1="439.48" y1="692.00" x2="439.48" y2="696.00" stroke="#6e6e6e" stroke-width="1.3" />
<text x="439.48" y="706.00" font-size="10.5" text-anchor="middle" fill="#222" >25</text>
<line x1="513.59" y1="692.00" x2="513.59" y2="696.00" stroke="#6e6e6e" stroke-width="1.3" />
<text x="502.60" y="705.80" font-size="10" text-anchor="end" fill="#222" >Q</text>
<text x="509.00" y="706.00" font-size="10.5" text-anchor="start" fill="#222" >м³/ч</text>
<line x1="68.90" y1="711.60" x2="513.59" y2="711.60" stroke="#8a8a8a" stroke-width="1.1" />
<line x1="68.90" y1="711.60" x2="68.90" y2="715.20" stroke="#8a8a8a" stroke-width="1.1" />
<text x="68.90" y="725.60" font-size="10.5" text-anchor="middle" fill="#222" >0</text>
<line x1="86.69" y1="711.60" x2="86.69" y2="715.20" stroke="#8a8a8a" stroke-width="1.1" />
<line x1="104.48" y1="711.60" x2="104.48" y2="715.20" stroke="#8a8a8a" stroke-width="1.1" />
<line x1="122.26" y1="711.60" x2="122.26" y2="715.20" stroke="#8a8a8a" stroke-width="1.1" />
<line x1="140.05" y1="711.60" x2="140.05" y2="715.20" stroke="#8a8a8a" stroke-width="1.1" />
<line x1="157.84" y1="711.60" x2="157.84" y2="715.20" stroke="#8a8a8a" stroke-width="1.1" />
<text x="157.84" y="725.60" font-size="10.5" text-anchor="middle" fill="#222" >100</text>
<line x1="175.63" y1="711.60" x2="175.63" y2="715.20" stroke="#8a8a8a" stroke-width="1.1" />
<line x1="193.41" y1="711.60" x2="193.41" y2="715.20" stroke="#8a8a8a" stroke-width="1.1" />
<line x1="211.20" y1="711.60" x2="211.20" y2="715.20" stroke="#8a8a8a" stroke-width="1.1" />
<line x1="228.99" y1="711.60" x2="228.99" y2="715.20" stroke="#8a8a8a" stroke-width="1.1" />
<line x1="246.78" y1="711.60" x2="246.78" y2="715.20" stroke="#8a8a8a" stroke-width="1.1" />
<text x="246.78" y="725.60" font-size="10.5" text-anchor="middle" fill="#222" >200</text>
<line x1="264.56" y1="711.60" x2="264.56" y2="715.20" stroke="#8a8a8a" stroke-width="1.1" />
<line x1="282.35" y1="711.60" x2="282.35" y2="715.20" stroke="#8a8a8a" stroke-width="1.1" />
<line x1="300.14" y1="711.60" x2="300.14" y2="715.20" stroke="#8a8a8a" stroke-width="1.1" />
<line x1="317.93" y1="711.60" x2="317.93" y2="715.20" stroke="#8a8a8a" stroke-width="1.1" />
<line x1="335.71" y1="711.60" x2="335.71" y2="715.20" stroke="#8a8a8a" stroke-width="1.1" />
<text x="335.71" y="725.60" font-size="10.5" text-anchor="middle" fill="#222" >300</text>
<line x1="353.50" y1="711.60" x2="353.50" y2="715.20" stroke="#8a8a8a" stroke-width="1.1" />
<line x1="371.29" y1="711.60" x2="371.29" y2="715.20" stroke="#8a8a8a" stroke-width="1.1" />
<line x1="389.08" y1="711.60" x2="389.08" y2="715.20" stroke="#8a8a8a" stroke-width="1.1" />
<line x1="406.86" y1="711.60" x2="406.86" y2="715.20" stroke="#8a8a8a" stroke-width="1.1" />
<line x1="424.65" y1="711.60" x2="424.65" y2="715.20" stroke="#8a8a8a" stroke-width="1.1" />
<text x="424.65" y="725.60" font-size="10.5" text-anchor="middle" fill="#222" >400</text>
<line x1="442.44" y1="711.60" x2="442.44" y2="715.20" stroke="#8a8a8a" stroke-width="1.1" />
<line x1="460.23" y1="711.60" x2="460.23" y2="715.20" stroke="#8a8a8a" stroke-width="1.1" />
<line x1="478.01" y1="711.60" x2="478.01" y2="715.20" stroke="#8a8a8a" stroke-width="1.1" />
<line x1="495.80" y1="711.60" x2="495.80" y2="715.20" stroke="#8a8a8a" stroke-width="1.1" />
<line x1="513.59" y1="711.60" x2="513.59" y2="715.20" stroke="#8a8a8a" stroke-width="1.1" />
<line x1="513.59" y1="711.60" x2="513.59" y2="715.20" stroke="#8a8a8a" stroke-width="1.1" />
<text x="502.60" y="725.60" font-size="10" text-anchor="end" fill="#222" >Q</text>
<text x="509.00" y="725.80" font-size="10.5" text-anchor="start" fill="#222" >л/мин</text>
<path d="M68.80,158.81 L71.24,158.88 L73.69,158.95 L76.13,159.03 L78.57,159.11 L81.01,159.20 L83.46,159.29 L85.90,159.38 L88.34,159.48 L90.79,159.59 L93.23,159.70 L95.67,159.81 L98.11,159.93 L100.56,160.05 L103.00,160.18" fill="none" stroke="#8cc0da" stroke-width="1.0" stroke-linejoin="round" stroke-linecap="butt" />
<path d="M103.00,160.18 L105.76,160.33 L108.51,160.49 L111.27,160.65 L114.02,160.82 L116.78,161.00 L119.53,161.18 L122.29,161.36 L125.05,161.55 L127.80,161.75 L130.56,161.96 L133.31,162.16 L136.07,162.38 L138.82,162.60 L141.58,162.83 L144.33,163.06 L147.09,163.30 L149.85,163.54 L152.60,163.79 L155.36,164.05 L158.11,164.31 L160.87,164.58 L163.62,164.85 L166.38,165.13 L169.14,165.42 L171.89,165.71 L174.65,166.00 L177.40,166.31 L180.16,166.61 L182.91,166.93 L185.67,167.25 L188.42,167.57 L191.18,167.90 L193.94,168.24 L196.69,168.58 L199.45,168.93 L202.20,169.28 L204.96,169.64 L207.71,170.00 L210.47,170.38 L213.23,170.76 L215.98,171.16 L218.74,171.58 L221.49,172.00 L224.25,172.45 L227.00,172.92 L229.76,173.41 L232.51,173.92 L235.27,174.46 L238.03,175.02 L240.78,175.62 L243.54,176.25 L246.29,176.90 L249.05,177.60 L251.80,178.33 L254.56,179.09 L257.32,179.90 L260.07,180.75 L262.83,181.65 L265.58,182.58 L268.34,183.56 L271.09,184.58 L273.85,185.62 L276.61,186.70 L279.36,187.80 L282.12,188.92 L284.87,190.06 L287.63,191.22 L290.38,192.38 L293.14,193.54 L295.89,194.71 L298.65,195.88 L301.41,197.04 L304.16,198.19 L306.92,199.33 L309.67,200.45 L312.43,201.56 L315.18,202.65 L317.94,203.72 L320.70,204.79 L323.45,205.84 L326.21,206.88 L328.96,207.91 L331.72,208.94 L334.47,209.96 L337.23,210.97 L339.98,211.98 L342.74,212.98 L345.50,213.99 L348.25,214.99 L351.01,215.99 L353.76,217.00 L356.52,218.01 L359.27,219.02 L362.03,220.04 L364.79,221.06 L367.54,222.09 L370.30,223.13 L373.05,224.18 L375.81,225.23 L378.56,226.30 L381.32,227.37 L384.08,228.45 L386.83,229.54 L389.59,230.64 L392.34,231.75 L395.10,232.87 L397.85,234.00 L400.61,235.14 L403.36,236.28 L406.12,237.44 L408.88,238.60 L411.63,239.78 L414.39,240.97 L417.14,242.16 L419.90,243.36 L422.65,244.58 L425.41,245.80 L428.17,247.03 L430.92,248.26 L433.68,249.51 L436.43,250.76 L439.19,252.01 L441.94,253.27 L444.70,254.54 L447.45,255.81 L450.21,257.09 L452.97,258.37 L455.72,259.66 L458.48,260.95 L461.23,262.24 L463.99,263.54 L466.74,264.83 L469.50,266.13 L472.26,267.43 L475.01,268.74 L477.77,270.04 L480.52,271.36 L483.28,272.68 L486.03,274.00 L488.79,275.34 L491.54,276.68 L494.30,278.04 L497.06,279.41 L499.81,280.80 L502.57,282.20 L505.32,283.66 L508.08,285.20 L510.83,286.87 L513.59,288.70" fill="none" stroke="#338bb4" stroke-width="1.85" stroke-linejoin="round" stroke-linecap="butt" />
<path d="M68.80,203.96 L70.97,203.95 L73.14,203.95 L75.31,203.97 L77.49,203.99 L79.66,204.02 L81.83,204.06 L84.00,204.10 L86.17,204.16 L88.34,204.22 L90.51,204.29 L92.69,204.37 L94.86,204.45 L97.03,204.55 L99.20,204.65" fill="none" stroke="#8cc0da" stroke-width="1.0" stroke-linejoin="round" stroke-linecap="butt" />
<path d="M99.20,204.65 L101.69,204.77 L104.18,204.90 L106.67,205.05 L109.16,205.20 L111.65,205.35 L114.14,205.52 L116.63,205.70 L119.12,205.88 L121.61,206.07 L124.10,206.26 L126.59,206.47 L129.08,206.68 L131.57,206.89 L134.06,207.12 L136.55,207.35 L139.04,207.58 L141.53,207.82 L144.02,208.07 L146.51,208.32 L149.00,208.57 L151.49,208.83 L153.98,209.10 L156.47,209.36 L158.96,209.64 L161.45,209.91 L163.94,210.19 L166.43,210.47 L168.92,210.76 L171.41,211.05 L173.90,211.34 L176.39,211.63 L178.88,211.93 L181.37,212.23 L183.86,212.54 L186.35,212.85 L188.84,213.17 L191.33,213.50 L193.82,213.84 L196.31,214.19 L198.80,214.54 L201.29,214.92 L203.78,215.30 L206.27,215.70 L208.76,216.11 L211.25,216.54 L213.74,216.99 L216.23,217.45 L218.72,217.93 L221.21,218.43 L223.70,218.95 L226.18,219.50 L228.67,220.06 L231.16,220.65 L233.65,221.26 L236.14,221.90 L238.63,222.56 L241.12,223.25 L243.61,223.95 L246.10,224.68 L248.59,225.43 L251.08,226.21 L253.57,227.00 L256.06,227.81 L258.55,228.65 L261.04,229.50 L263.53,230.37 L266.02,231.26 L268.51,232.17 L271.00,233.09 L273.49,234.03 L275.98,234.99 L278.47,235.96 L280.96,236.95 L283.45,237.95 L285.94,238.95 L288.43,239.96 L290.92,240.97 L293.41,241.98 L295.90,242.98 L298.39,243.98 L300.88,244.96 L303.37,245.93 L305.86,246.88 L308.35,247.82 L310.84,248.73 L313.33,249.63 L315.82,250.51 L318.31,251.39 L320.80,252.26 L323.29,253.13 L325.78,254.00 L328.27,254.88 L330.76,255.77 L333.25,256.66 L335.74,257.58 L338.23,258.51 L340.72,259.46 L343.21,260.43 L345.70,261.41 L348.19,262.42 L350.68,263.44 L353.17,264.47 L355.66,265.53 L358.15,266.59 L360.64,267.67 L363.13,268.76 L365.62,269.87 L368.11,270.98 L370.60,272.11 L373.09,273.23 L375.58,274.36 L378.07,275.49 L380.56,276.61 L383.05,277.71 L385.54,278.81 L388.03,279.89 L390.52,280.97 L393.01,282.05 L395.50,283.12 L397.99,284.18 L400.48,285.25 L402.97,286.31 L405.46,287.38 L407.95,288.45 L410.44,289.53 L412.93,290.61 L415.42,291.70 L417.91,292.81 L420.40,293.92 L422.89,295.05 L425.38,296.20 L427.87,297.36 L430.36,298.54 L432.85,299.73 L435.34,300.95 L437.83,302.18 L440.32,303.43 L442.81,304.70 L445.30,305.99 L447.79,307.29 L450.28,308.62 L452.77,309.96 L455.26,311.33 L457.75,312.71 L460.24,314.12 L462.73,315.54 L465.22,316.99 L467.71,318.46 L470.20,319.94" fill="none" stroke="#338bb4" stroke-width="1.85" stroke-linejoin="round" stroke-linecap="butt" />
<path d="M68.90,448.41 L71.05,448.39 L73.20,448.36 L75.35,448.34 L77.50,448.31 L79.65,448.28 L81.80,448.25 L83.95,448.22 L86.10,448.18 L88.25,448.15 L90.40,448.11 L92.55,448.07 L94.70,448.03 L96.85,447.98 L99.00,447.93" fill="none" stroke="#8cc0da" stroke-width="1.0" stroke-linejoin="round" stroke-linecap="butt" />
<path d="M99.00,447.93 L101.78,447.87 L104.56,447.80 L107.35,447.73 L110.13,447.66 L112.91,447.58 L115.69,447.49 L118.48,447.41 L121.26,447.32 L124.04,447.22 L126.82,447.13 L129.61,447.02 L132.39,446.92 L135.17,446.81 L137.95,446.69 L140.74,446.58 L143.52,446.45 L146.30,446.33 L149.08,446.20 L151.87,446.06 L154.65,445.93 L157.43,445.78 L160.21,445.64 L163.00,445.49 L165.78,445.33 L168.56,445.17 L171.34,445.01 L174.13,444.84 L176.91,444.67 L179.69,444.49 L182.47,444.31 L185.26,444.12 L188.04,443.93 L190.82,443.74 L193.60,443.54 L196.39,443.34 L199.17,443.13 L201.95,442.92 L204.73,442.70 L207.52,442.48 L210.30,442.26 L213.08,442.03 L215.86,441.80 L218.65,441.56 L221.43,441.32 L224.21,441.07 L226.99,440.82 L229.78,440.57 L232.56,440.31 L235.34,440.05 L238.12,439.78 L240.91,439.51 L243.69,439.24 L246.47,438.96 L249.25,438.68 L252.04,438.39 L254.82,438.10 L257.60,437.80 L260.38,437.51 L263.17,437.20 L265.95,436.90 L268.73,436.59 L271.51,436.28 L274.30,435.96 L277.08,435.64 L279.86,435.31 L282.64,434.98 L285.43,434.65 L288.21,434.32 L290.99,433.98 L293.77,433.63 L296.56,433.29 L299.34,432.94 L302.12,432.58 L304.90,432.22 L307.69,431.86 L310.47,431.50 L313.25,431.13 L316.03,430.76 L318.82,430.38 L321.60,430.00 L324.38,429.62 L327.16,429.24 L329.95,428.85 L332.73,428.46 L335.51,428.06 L338.29,427.66 L341.08,427.26 L343.86,426.86 L346.64,426.45 L349.42,426.04 L352.21,425.62 L354.99,425.20 L357.77,424.78 L360.55,424.36 L363.34,423.93 L366.12,423.50 L368.90,423.06 L371.68,422.63 L374.47,422.19 L377.25,421.74 L380.03,421.30 L382.81,420.85 L385.60,420.39 L388.38,419.94 L391.16,419.48 L393.94,419.02 L396.73,418.55 L399.51,418.09 L402.29,417.62 L405.07,417.14 L407.86,416.67 L410.64,416.19 L413.42,415.71 L416.20,415.22 L418.99,414.74 L421.77,414.25 L424.55,413.75 L427.33,413.26 L430.12,412.76 L432.90,412.26 L435.68,411.75 L438.46,411.25 L441.25,410.74 L444.03,410.23 L446.81,409.71 L449.59,409.19 L452.38,408.68 L455.16,408.15 L457.94,407.63 L460.72,407.10 L463.51,406.57 L466.29,406.04 L469.07,405.50 L471.85,404.97 L474.64,404.43 L477.42,403.88 L480.20,403.34 L482.98,402.79 L485.77,402.24 L488.55,401.69 L491.33,401.14 L494.11,400.58 L496.90,400.02 L499.68,399.46 L502.46,398.90 L505.24,398.33 L508.03,397.76 L510.81,397.19 L513.59,396.62" fill="none" stroke="#338bb4" stroke-width="1.85" stroke-linejoin="round" stroke-linecap="butt" />
<path d="M68.90,587.33 L71.03,586.79 L73.16,586.25 L75.29,585.71 L77.41,585.16 L79.54,584.61 L81.67,584.05 L83.80,583.49 L85.93,582.92 L88.06,582.35 L90.19,581.78 L92.31,581.21 L94.44,580.63 L96.57,580.05 L98.70,579.47" fill="none" stroke="#8cc0da" stroke-width="1.0" stroke-linejoin="round" stroke-linecap="butt" />
<path d="M98.70,579.47 L101.48,578.71 L104.27,577.94 L107.05,577.17 L109.84,576.39 L112.62,575.62 L115.41,574.84 L118.19,574.06 L120.98,573.29 L123.76,572.51 L126.54,571.73 L129.33,570.95 L132.11,570.18 L134.90,569.40 L137.68,568.63 L140.47,567.86 L143.25,567.09 L146.04,566.32 L148.82,565.56 L151.61,564.80 L154.39,564.04 L157.17,563.29 L159.96,562.54 L162.74,561.80 L165.53,561.06 L168.31,560.33 L171.10,559.60 L173.88,558.88 L176.67,558.16 L179.45,557.45 L182.23,556.75 L185.02,556.05 L187.80,555.36 L190.59,554.68 L193.37,554.01 L196.16,553.34 L198.94,552.68 L201.73,552.03 L204.51,551.38 L207.30,550.74 L210.08,550.11 L212.86,549.49 L215.65,548.87 L218.43,548.26 L221.22,547.65 L224.00,547.05 L226.79,546.46 L229.57,545.87 L232.36,545.29 L235.14,544.72 L237.92,544.15 L240.71,543.59 L243.49,543.03 L246.28,542.48 L249.06,541.93 L251.85,541.39 L254.63,540.86 L257.42,540.33 L260.20,539.80 L262.99,539.28 L265.77,538.77 L268.55,538.26 L271.34,537.76 L274.12,537.26 L276.91,536.76 L279.69,536.27 L282.48,535.78 L285.26,535.30 L288.05,534.82 L290.83,534.35 L293.61,533.88 L296.40,533.41 L299.18,532.95 L301.97,532.49 L304.75,532.04 L307.54,531.59 L310.32,531.14 L313.11,530.70 L315.89,530.27 L318.68,529.83 L321.46,529.41 L324.24,528.98 L327.03,528.56 L329.81,528.15 L332.60,527.74 L335.38,527.34 L338.17,526.94 L340.95,526.54 L343.74,526.15 L346.52,525.76 L349.30,525.38 L352.09,525.00 L354.87,524.63 L357.66,524.27 L360.44,523.90 L363.23,523.55 L366.01,523.20 L368.80,522.85 L371.58,522.51 L374.37,522.17 L377.15,521.84 L379.93,521.51 L382.72,521.19 L385.50,520.88 L388.29,520.57 L391.07,520.26 L393.86,519.96 L396.64,519.67 L399.43,519.38 L402.21,519.10 L404.99,518.82 L407.78,518.55 L410.56,518.29 L413.35,518.03 L416.13,517.77 L418.92,517.52 L421.70,517.28 L424.49,517.05 L427.27,516.82 L430.06,516.59 L432.84,516.37 L435.62,516.16 L438.41,515.95 L441.19,515.75 L443.98,515.56 L446.76,515.37 L449.55,515.19 L452.33,515.01 L455.12,514.84 L457.90,514.68 L460.68,514.52 L463.47,514.37 L466.25,514.23 L469.04,514.09 L471.82,513.96 L474.61,513.84 L477.39,513.72 L480.18,513.61 L482.96,513.51 L485.75,513.41 L488.53,513.32 L491.31,513.24 L494.10,513.16 L496.88,513.09 L499.67,513.03 L502.45,512.97 L505.24,512.92 L508.02,512.88 L510.81,512.85 L513.59,512.82" fill="none" stroke="#338bb4" stroke-width="1.85" stroke-linejoin="round" stroke-linecap="butt" />
<path d="M68.90,612.66 L71.33,612.29 L73.76,611.90 L76.19,611.51 L78.61,611.10 L81.04,610.68 L83.47,610.25 L85.90,609.82 L88.33,609.37 L90.76,608.92 L93.19,608.46 L95.61,607.99 L98.04,607.51 L100.47,607.03 L102.90,606.54" fill="none" stroke="#8cc0da" stroke-width="1.0" stroke-linejoin="round" stroke-linecap="butt" />
<path d="M102.90,606.54 L105.36,606.04 L107.82,605.54 L110.27,605.03 L112.73,604.51 L115.19,604.00 L117.65,603.48 L120.11,602.95 L122.56,602.43 L125.02,601.90 L127.48,601.37 L129.94,600.85 L132.39,600.32 L134.85,599.79 L137.31,599.26 L139.77,598.74 L142.23,598.21 L144.68,597.69 L147.14,597.17 L149.60,596.65 L152.06,596.14 L154.52,595.63 L156.97,595.12 L159.43,594.62 L161.89,594.13 L164.35,593.63 L166.80,593.15 L169.26,592.67 L171.72,592.20 L174.18,591.73 L176.64,591.27 L179.09,590.82 L181.55,590.38 L184.01,589.94 L186.47,589.51 L188.93,589.08 L191.38,588.66 L193.84,588.25 L196.30,587.84 L198.76,587.44 L201.21,587.05 L203.67,586.65 L206.13,586.27 L208.59,585.89 L211.05,585.51 L213.50,585.14 L215.96,584.78 L218.42,584.41 L220.88,584.06 L223.34,583.70 L225.79,583.35 L228.25,583.01 L230.71,582.66 L233.17,582.32 L235.62,581.99 L238.08,581.66 L240.54,581.33 L243.00,581.00 L245.46,580.67 L247.91,580.35 L250.37,580.03 L252.83,579.71 L255.29,579.40 L257.75,579.09 L260.20,578.77 L262.66,578.46 L265.12,578.15 L267.58,577.85 L270.03,577.54 L272.49,577.23 L274.95,576.93 L277.41,576.62 L279.87,576.32 L282.32,576.01 L284.78,575.71 L287.24,575.41 L289.70,575.11 L292.16,574.80 L294.61,574.51 L297.07,574.21 L299.53,573.91 L301.99,573.61 L304.44,573.32 L306.90,573.03 L309.36,572.74 L311.82,572.45 L314.28,572.16 L316.73,571.88 L319.19,571.59 L321.65,571.31 L324.11,571.04 L326.57,570.76 L329.02,570.49 L331.48,570.22 L333.94,569.95 L336.40,569.68 L338.85,569.42 L341.31,569.16 L343.77,568.91 L346.23,568.65 L348.69,568.41 L351.14,568.16 L353.60,567.92 L356.06,567.68 L358.52,567.45 L360.98,567.22 L363.43,566.99 L365.89,566.77 L368.35,566.55 L370.81,566.34 L373.26,566.13 L375.72,565.92 L378.18,565.72 L380.64,565.53 L383.10,565.34 L385.55,565.15 L388.01,564.97 L390.47,564.79 L392.93,564.62 L395.39,564.45 L397.84,564.29 L400.30,564.13 L402.76,563.98 L405.22,563.83 L407.67,563.68 L410.13,563.54 L412.59,563.40 L415.05,563.27 L417.51,563.14 L419.96,563.02 L422.42,562.89 L424.88,562.78 L427.34,562.66 L429.80,562.55 L432.25,562.45 L434.71,562.34 L437.17,562.24 L439.63,562.15 L442.08,562.06 L444.54,561.97 L447.00,561.88 L449.46,561.80 L451.92,561.72 L454.37,561.64 L456.83,561.57 L459.29,561.50 L461.75,561.43 L464.21,561.37 L466.66,561.31 L469.12,561.25" fill="none" stroke="#338bb4" stroke-width="1.85" stroke-linejoin="round" stroke-linecap="butt" />
<path d="M205.10,215.40 C205.18,214.17 205.23,210.40 205.60,208.00 C205.97,205.60 206.48,203.50 207.30,201.00 C208.12,198.50 209.22,195.83 210.50,193.00 C211.78,190.17 213.28,187.37 215.00,184.00 C216.72,180.63 219.83,174.67 220.80,172.80" fill="none" stroke="#559fc4" stroke-width="1.2" stroke-dasharray="8 4"/>
<path d="M237.30,222.00 C237.47,220.33 237.60,215.17 238.30,212.00 C239.00,208.83 240.13,206.17 241.50,203.00 C242.87,199.83 244.22,196.63 246.50,193.00 C248.78,189.37 253.75,183.17 255.20,181.20" fill="none" stroke="#559fc4" stroke-width="1.2" stroke-dasharray="8 4"/>
<path d="M278.90,236.30 C279.22,235.23 279.58,233.12 280.80,229.90 C282.02,226.68 283.90,220.88 286.20,217.00 C288.50,213.12 291.93,209.82 294.60,206.60 C297.27,203.38 300.93,199.18 302.20,197.70" fill="none" stroke="#559fc4" stroke-width="1.2" stroke-dasharray="8 4"/>
<path d="M321.20,252.30 C321.53,250.50 322.05,245.23 323.20,241.50 C324.35,237.77 325.90,233.78 328.10,229.90 C330.30,226.02 334.08,221.18 336.40,218.20 C338.72,215.22 341.07,213.03 342.00,212.00" fill="none" stroke="#559fc4" stroke-width="1.2" stroke-dasharray="8 4"/>
<path d="M358.90,219.10 C357.65,220.62 353.62,224.72 351.40,228.20 C349.18,231.68 346.47,236.37 345.60,240.00 C344.73,243.63 345.47,246.83 346.20,250.00 C346.93,253.17 348.27,256.40 350.00,259.00 C351.73,261.60 353.93,263.67 356.60,265.60 C359.27,267.53 363.27,269.50 366.00,270.60 C368.73,271.70 369.85,271.75 373.00,272.20 C376.15,272.65 381.03,273.12 384.90,273.30 C388.77,273.48 391.82,273.63 396.20,273.30 C400.58,272.97 406.22,272.30 411.20,271.30 C416.18,270.30 421.30,268.75 426.10,267.30 C430.90,265.85 435.90,264.22 440.00,262.60 C444.10,260.98 448.92,258.43 450.70,257.60" fill="none" stroke="#559fc4" stroke-width="1.2" stroke-dasharray="8 4"/>
<path d="M410.80,288.60 C413.35,288.15 420.45,287.02 426.10,285.90 C431.75,284.78 439.08,283.72 444.70,281.90 C450.32,280.08 455.22,277.20 459.80,275.00 C464.38,272.80 470.13,269.75 472.20,268.70" fill="none" stroke="#559fc4" stroke-width="1.2" stroke-dasharray="8 4"/>
<path d="M450.00,308.50 C452.15,308.33 458.42,308.00 462.90,307.50 C467.38,307.00 472.25,306.55 476.90,305.50 C481.55,304.45 486.35,302.73 490.80,301.20 C495.25,299.67 499.80,298.28 503.60,296.30 C507.40,294.32 511.93,290.47 513.60,289.30" fill="none" stroke="#559fc4" stroke-width="1.2" stroke-dasharray="8 4"/>
<text x="225.60" y="170.30" font-size="8.5" text-anchor="middle" fill="#333" stroke="#fff" stroke-width="2.4" paint-order="stroke" stroke-linejoin="round">40</text>
<text x="259.80" y="178.30" font-size="8.5" text-anchor="middle" fill="#333" stroke="#fff" stroke-width="2.4" paint-order="stroke" stroke-linejoin="round">45</text>
<text x="308.00" y="193.90" font-size="8.5" text-anchor="middle" fill="#333" stroke="#fff" stroke-width="2.4" paint-order="stroke" stroke-linejoin="round">50</text>
<text x="346.00" y="208.20" font-size="8.5" text-anchor="middle" fill="#333" stroke="#fff" stroke-width="2.4" paint-order="stroke" stroke-linejoin="round">53</text>
<text x="365.20" y="215.60" font-size="8.5" text-anchor="middle" fill="#333" stroke="#fff" stroke-width="2.4" paint-order="stroke" stroke-linejoin="round">54</text>
<text x="405.30" y="231.20" font-size="8.5" text-anchor="middle" fill="#333" stroke="#fff" stroke-width="2.4" paint-order="stroke" stroke-linejoin="round">55</text>
<text x="368.00" y="263.60" font-size="8.5" text-anchor="middle" fill="#333" stroke="#fff" stroke-width="2.4" paint-order="stroke" stroke-linejoin="round">54</text>
<text x="456.00" y="253.90" font-size="8.5" text-anchor="middle" fill="#333" stroke="#fff" stroke-width="2.4" paint-order="stroke" stroke-linejoin="round">54</text>
<text x="478.60" y="266.60" font-size="8.5" text-anchor="middle" fill="#333" stroke="#fff" stroke-width="2.4" paint-order="stroke" stroke-linejoin="round">53</text>
<text x="434.70" y="313.70" font-size="8.5" text-anchor="middle" fill="#333" stroke="#fff" stroke-width="2.4" paint-order="stroke" stroke-linejoin="round">50</text>
<text x="335.50" y="423.20" font-size="8.5" text-anchor="middle" fill="#333" stroke="#fff" stroke-width="2.4" paint-order="stroke" stroke-linejoin="round">NPSH</text>
<text x="373.20" y="198.90" font-size="8.9" text-anchor="start" fill="#333" stroke="#fff" stroke-width="2.4" paint-order="stroke" stroke-linejoin="round">η [%]</text>
<text x="478.00" y="293.40" font-size="8" text-anchor="middle" fill="#333" stroke="#fff" stroke-width="2.4" paint-order="stroke" stroke-linejoin="round">32–200/40</text>
<text x="461.00" y="330.70" font-size="8" text-anchor="middle" fill="#333" stroke="#fff" stroke-width="2.4" paint-order="stroke" stroke-linejoin="round">32–200/30</text>
<text x="470.20" y="512.30" font-size="8" text-anchor="middle" fill="#333" stroke="#fff" stroke-width="2.4" paint-order="stroke" stroke-linejoin="round">32–200/40</text>
<text x="462.90" y="557.60" font-size="8" text-anchor="middle" fill="#333" stroke="#fff" stroke-width="2.4" paint-order="stroke" stroke-linejoin="round">32–200/30</text>
</svg>
</body></html>
